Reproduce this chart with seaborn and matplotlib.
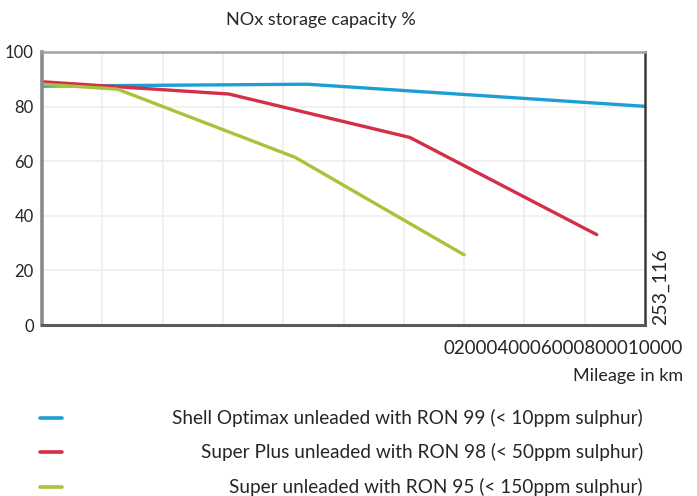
import numpy as np
import pandas as pd
import seaborn as sns
import matplotlib.pyplot as plt
from matplotlib.lines import Line2D

# values (mileage in km, NOx storage capacity %)
series_names = [
    "Shell Optimax unleaded with RON 99 (< 10ppm sulphur)",
    "Super Plus unleaded with RON 98 (< 50ppm sulphur)",
    "Super unleaded with RON 95 (< 150ppm sulphur)",
]
optimax_km = [0, 4400, 10000]
optimax_cap = [87.5, 88.2, 80.1]
superplus_km = [0, 3100, 6100, 9200]
superplus_cap = [89.1, 84.6, 68.7, 33.1]
super_km = [0, 1250, 4200, 7000]
super_cap = [88.2, 86.4, 61.4, 25.7]

y_ticks = [0, 20, 40, 60, 80, 100]
x_tick_labels = ["0", "2000", "4000", "6000", "8000", "10000"]
colors = ["#1e9fd4", "#d42f48", "#a9c23b"]

frames = []
for name, km, cap in zip(series_names,
                         [optimax_km, superplus_km, super_km],
                         [optimax_cap, superplus_cap, super_cap]):
    frames.append(pd.DataFrame({"km": km, "cap": cap, "fuel": name}))
df = pd.concat(frames, ignore_index=True)

sns.set_style("white")
plt.rcParams["font.family"] = ["Lato", "DejaVu Sans"]

fig = plt.figure(figsize=(6.97, 4.96), dpi=100)
ax = fig.add_axes([42 / 697, 1 - 325 / 496, 603 / 697, 273 / 496])

sns.lineplot(data=df, x="km", y="cap", hue="fuel", palette=dict(zip(series_names, colors)),
             linewidth=2.4, legend=False, ax=ax, sort=False)

ax.set_xlim(0, 10000)
ax.set_ylim(0, 100)
ax.set_xticks(np.arange(1000, 10000, 1000))
ax.set_xticklabels([])
ax.set_yticks(y_ticks)
ax.set_yticklabels([str(t) for t in y_ticks], fontsize=12)
ax.tick_params(axis="both", length=0, pad=6)
ax.grid(True, color="#eeeeee", linewidth=1.2)
ax.set_xlabel("")
ax.set_ylabel("")

ax.spines["left"].set_color("#8a8a8a")
ax.spines["left"].set_linewidth(2.6)
ax.spines["bottom"].set_color("#5a5a5a")
ax.spines["bottom"].set_linewidth(2.2)
ax.spines["top"].set_color("#a0a0a0")
ax.spines["top"].set_linewidth(1.8)
ax.spines["right"].set_color("#3a3a3a")
ax.spines["right"].set_linewidth(1.8)

fig.text(321 / 697, 1 - 20 / 496, "NOx storage capacity %", fontsize=13, ha="center", va="center")
fig.text(683 / 697, 1 - 348 / 496, "".join(x_tick_labels), fontsize=13.5, ha="right", va="center")
fig.text(683 / 697, 1 - 376 / 496, "Mileage in km", fontsize=13, ha="right", va="center")
fig.text(661 / 697, 1 - 325 / 496, "253_116", fontsize=14, rotation=90, ha="center", va="bottom")

leg_y = [418, 452, 487]
for name, c, y in zip(series_names, colors, leg_y):
    fig.add_artist(Line2D([40 / 697, 62 / 697], [1 - y / 496, 1 - y / 496], color=c, linewidth=2.6))
    fig.text(643 / 697, 1 - y / 496, name, fontsize=13.7, ha="right", va="center")

plt.savefig("out.png", dpi=100)
